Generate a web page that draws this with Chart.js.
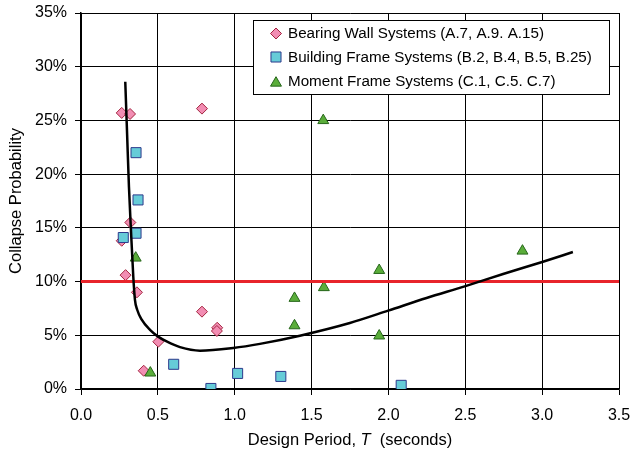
<!DOCTYPE html>
<html>
<head>
<meta charset="utf-8">
<script src="https://cdn.jsdelivr.net/npm/chart.js@4/dist/chart.umd.min.js"></script>
<style>
  html, body { margin: 0; padding: 0; background: #fff; }
  #wrap { width: 633px; height: 452px; }
</style>
</head>
<body>
<div id="wrap"><canvas id="c" width="633" height="452"></canvas></div>
<script>
// Design period (s) and collapse probability (%) per system type
const bearingWallT = [0.265, 0.319, 0.787, 0.321, 0.265, 0.290, 0.364, 0.787, 0.886, 0.884, 0.503, 0.408];
const bearingWallP = [25.7, 25.6, 26.1, 15.5, 13.8, 10.6, 9.0, 7.2, 5.7, 5.4, 4.4, 1.7];

const buildingFrameT = [0.358, 0.371, 0.275, 0.358, 0.603, 0.845, 1.019, 1.300, 2.083];
const buildingFrameP = [22.0, 17.6, 14.1, 14.5, 2.3, 0.05, 1.45, 1.17, 0.34];

const momentFrameT = [1.576, 0.356, 0.451, 1.389, 1.389, 1.580, 1.940, 1.940, 2.872];
const momentFrameP = [25.0, 12.2, 1.5, 8.45, 5.9, 9.45, 11.05, 4.95, 12.85];

// Trend curve through the data
const trendT = [0.288, 0.300, 0.312, 0.325, 0.340, 0.351, 0.365, 0.395, 0.449, 0.499, 0.557, 0.644, 0.774, 0.990, 1.164, 1.424, 1.749, 1.998, 2.248, 2.496, 2.746, 2.995, 3.200];
const trendP = [28.6, 23.7, 18.8, 14.8, 10.5, 8.3, 7.4, 6.45, 5.5, 4.9, 4.43, 3.9, 3.57, 3.82, 4.2, 4.96, 6.14, 7.29, 8.47, 9.55, 10.7, 11.8, 12.75];

// 10% collapse probability limit
const limitT = [0, 3.5];
const limitP = [10, 10];

const seriesNames = [
  'Bearing Wall Systems (A.7, A.9. A.15)',
  'Building Frame Systems (B.2, B.4, B.5, B.25)',
  'Moment Frame Systems (C.1, C.5. C.7)'
];

const xTicks = [0, 0.5, 1.0, 1.5, 2.0, 2.5, 3.0, 3.5];
const yTicks = [0, 5, 10, 15, 20, 25, 30, 35];

const pts = (xs, ys) => xs.map((x, i) => ({ x: x, y: ys[i] }));

const FONT = '"Liberation Sans", Arial, sans-serif';

const styles = {
  bw: { pointStyle: 'rectRot', radius: 5.5, bg: '#f28db3', border: '#a3243f' },
  bf: { pointStyle: 'rect', radius: 7.1, bg: '#66ccd8', border: '#2d3a8c' },
  mf: { pointStyle: 'triangle', radius: 6.3, bg: '#5aad3a', border: '#26661a' }
};

// Later series sit on top of earlier ones
function markerSet(label, data, s, order) {
  return {
    type: 'scatter', label: label, data: data, order: order,
    pointStyle: s.pointStyle, pointRadius: s.radius, pointHoverRadius: s.radius,
    backgroundColor: s.bg, borderColor: s.border, pointBorderWidth: 1, showLine: false
  };
}

// Legend box inside the plot, top right
const boxLegend = {
  id: 'boxLegend',
  afterDatasetsDraw(chart) {
    const ctx = chart.ctx;
    const x0 = 253, y0 = 20, w = 356, h = 74;
    ctx.save();
    ctx.fillStyle = '#fff';
    ctx.fillRect(x0, y0, w, h);
    ctx.strokeStyle = '#000';
    ctx.lineWidth = 1;
    ctx.strokeRect(x0 + 0.5, y0 + 0.5, w, h);
    const rows = [33.5, 57, 81.5];
    const keys = ['bw', 'bf', 'mf'];
    ctx.font = '15.2px ' + FONT;
    ctx.textBaseline = 'middle';
    ctx.textAlign = 'left';
    rows.forEach((ry, i) => {
      const s = styles[keys[i]];
      ctx.fillStyle = s.bg;
      ctx.strokeStyle = s.border;
      ctx.lineWidth = 1;
      Chart.helpers.drawPoint(ctx, { pointStyle: s.pointStyle, radius: s.radius, rotation: 0, borderWidth: 1 }, 276, ry + (keys[i] === 'mf' ? 1.5 : 0));
      ctx.fillStyle = '#000';
      ctx.fillText(seriesNames[i], 288, ry + 0.5);
    });
    ctx.restore();
  }
};

// X axis title with an italic period symbol
const xTitle = {
  id: 'xTitle',
  afterDraw(chart) {
    const ctx = chart.ctx;
    const area = chart.chartArea;
    const parts = [
      { t: 'Design Period, ', f: '16.5px ' + FONT },
      { t: 'T', f: 'italic 16.5px ' + FONT },
      { t: '  (seconds)', f: '16.5px ' + FONT }
    ];
    ctx.save();
    ctx.fillStyle = '#000';
    ctx.textBaseline = 'middle';
    ctx.textAlign = 'left';
    let total = 0;
    parts.forEach(p => { ctx.font = p.f; p.w = ctx.measureText(p.t).width; total += p.w; });
    let x = (area.left + area.right) / 2 - total / 2;
    parts.forEach(p => { ctx.font = p.f; ctx.fillText(p.t, x, 440); x += p.w; });
    ctx.restore();
  }
};

new Chart(document.getElementById('c'), {
  type: 'scatter',
  data: {
    datasets: [
      {
        type: 'line', label: 'trend', data: pts(trendT, trendP), order: 0,
        borderColor: '#000', borderWidth: 2.5, pointRadius: 0, fill: false,
        cubicInterpolationMode: 'monotone'
      },
      {
        type: 'line', label: 'limit', data: pts(limitT, limitP), order: 1,
        borderColor: '#e8242b', borderWidth: 3, pointRadius: 0, fill: false
      },
      markerSet(seriesNames[0], pts(bearingWallT, bearingWallP), styles.bw, 4),
      markerSet(seriesNames[1], pts(buildingFrameT, buildingFrameP), styles.bf, 3),
      markerSet(seriesNames[2], pts(momentFrameT, momentFrameP), styles.mf, 2)
    ]
  },
  options: {
    responsive: false,
    animation: false,
    events: [],
    layout: { padding: { left: 0, right: 14, top: 13, bottom: 0 } },
    plugins: { legend: { display: false }, tooltip: { enabled: false } },
    scales: {
      x: {
        type: 'linear', min: 0, max: 3.5,
        afterBuildTicks: (s) => { s.ticks = xTicks.map(v => ({ value: v })); },
        afterFit: (s) => { s.height = 63; s.paddingLeft = 0; s.paddingRight = 0; },
        grid: { color: '#000', lineWidth: 1, tickLength: 6, tickColor: '#000', drawTicks: true },
        border: { color: '#000', width: 1.5 },
        ticks: { color: '#000', font: { family: FONT, size: 16 }, padding: 11, maxRotation: 0,
                 callback: (v) => Number(v).toFixed(1) },
        title: { display: false }
      },
      y: {
        type: 'linear', min: 0, max: 35,
        afterBuildTicks: (s) => { s.ticks = yTicks.map(v => ({ value: v })); },
        afterFit: (s) => { s.width = 81; s.paddingTop = 0; s.paddingBottom = 0; },
        grid: { color: '#000', lineWidth: 1, tickLength: 6, tickColor: '#000', drawTicks: true },
        border: { color: '#000', width: 1.5 },
        ticks: { color: '#000', font: { family: FONT, size: 16 }, padding: 8,
                 callback: (v) => v + '%' },
        title: {
          display: true, color: '#000', font: { family: FONT, size: 16.5 },
          text: 'Collapse Probability', padding: { top: 7, bottom: 0 }
        }
      }
    }
  },
  plugins: [boxLegend, xTitle]
});
</script>
</body>
</html>
